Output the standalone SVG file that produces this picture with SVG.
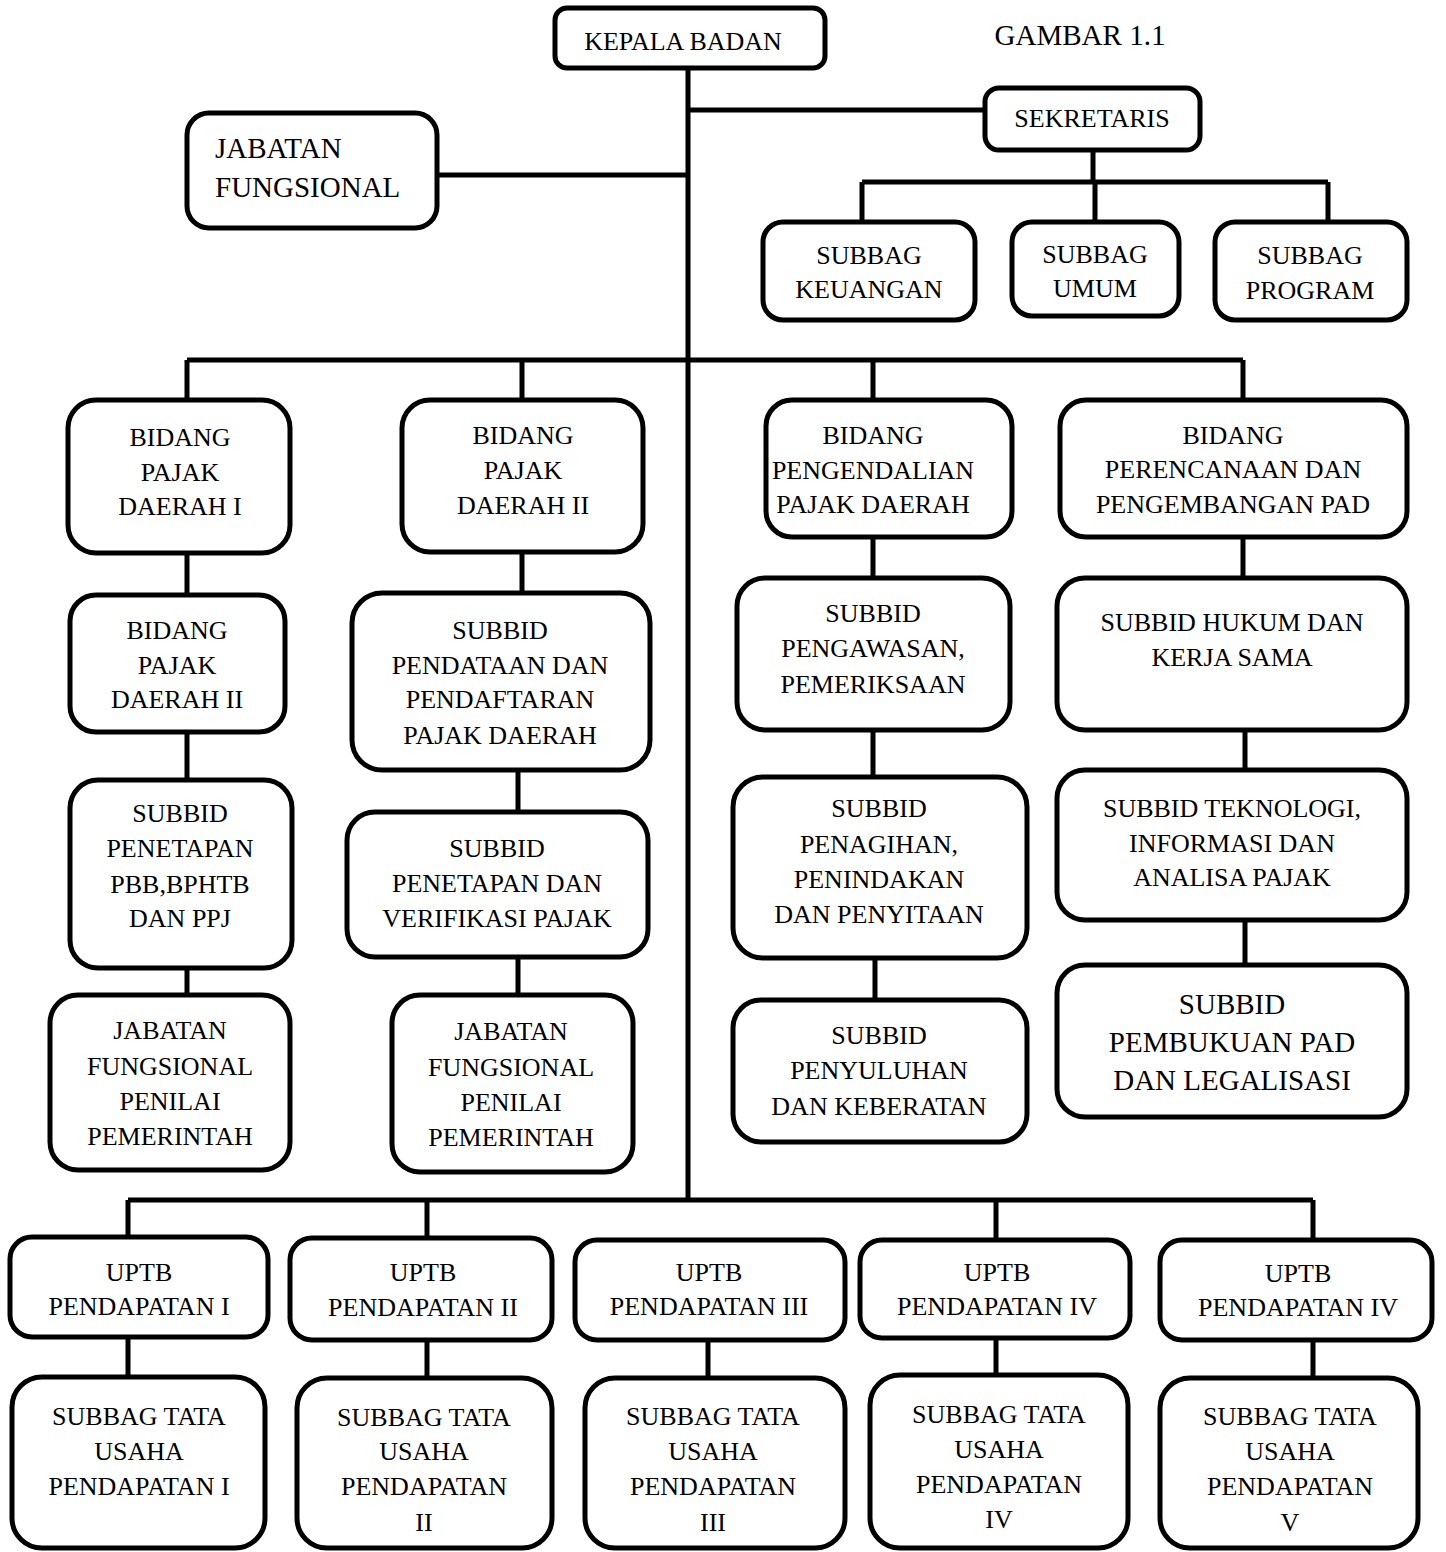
<svg xmlns="http://www.w3.org/2000/svg" width="1446" height="1552" viewBox="0 0 1446 1552">
<style>
.box{fill:#fff;stroke:#000;stroke-width:5}
.t{font-family:"Liberation Serif","Times New Roman",serif;font-size:26px;fill:#000;text-anchor:middle}
.l{font-size:29px;text-anchor:start}
.b{font-size:29px}
.c{fill:none;stroke:#000;stroke-width:5}
</style>
<rect width="1446" height="1552" fill="#fff"/>
<g id="connectors" class="c">
<path d="M688,68 V1200"/>
<path d="M688,110 H985"/>
<path d="M437,175 H688"/>
<path d="M1093,150 V182 M862,182 H1328 M862,182 V222 M1095,182 V222 M1328,182 V222"/>
<path d="M187,360 H1243 M187,360 V400 M522,360 V400 M873,360 V400 M1243,360 V400"/>
<path d="M187,553 V595 M187,732 V780 M187,968 V995"/>
<path d="M522,552 V593 M518,770 V812 M518,957 V995"/>
<path d="M873,537 V578 M873,730 V777 M875,958 V1000"/>
<path d="M1243,537 V578 M1245,730 V770 M1245,920 V965"/>
<path d="M128,1200 H1313 M128,1200 V1238 M427,1200 V1240 M996,1200 V1240 M1313,1200 V1240"/>
<path d="M128,1337 V1378 M427,1340 V1378 M708,1340 V1378 M996,1338 V1375 M1313,1340 V1378"/>
</g>
<text class="t b" x="1080" y="45">GAMBAR 1.1</text>
<g id="kepala"><rect class="box" x="555" y="8" width="270" height="60" rx="12"/><text class="t" x="683" y="50">KEPALA BADAN</text></g>
<g id="sekretaris"><rect class="box" x="985" y="88" width="215" height="62" rx="14"/><text class="t" x="1092" y="127">SEKRETARIS</text></g>
<g id="jabatan-fungsional"><rect class="box" x="187" y="113" width="250" height="115" rx="22"/><text class="t l" x="215" y="158">JABATAN</text><text class="t l" x="215" y="197">FUNGSIONAL</text></g>
<g id="subbag-keuangan"><rect class="box" x="763" y="222" width="212" height="98" rx="20"/><text class="t" x="869" y="264">SUBBAG</text><text class="t" x="869" y="298">KEUANGAN</text></g>
<g id="subbag-umum"><rect class="box" x="1012" y="222" width="167" height="94" rx="20"/><text class="t" x="1095" y="263">SUBBAG</text><text class="t" x="1095" y="297">UMUM</text></g>
<g id="subbag-program"><rect class="box" x="1215" y="222" width="192" height="98" rx="20"/><text class="t" x="1310" y="264">SUBBAG</text><text class="t" x="1310" y="299">PROGRAM</text></g>

<g id="bidang-pajak-1"><rect class="box" x="68" y="400" width="222" height="153" rx="28"/><text class="t" x="180" y="446">BIDANG</text><text class="t" x="180" y="481">PAJAK</text><text class="t" x="180" y="515">DAERAH I</text></g>
<g id="bidang-pajak-2"><rect class="box" x="402" y="400" width="241" height="152" rx="28"/><text class="t" x="523" y="444">BIDANG</text><text class="t" x="523" y="479">PAJAK</text><text class="t" x="523" y="514">DAERAH II</text></g>
<g id="bidang-pengendalian"><rect class="box" x="766" y="400" width="246" height="137" rx="26"/><text class="t" x="873" y="444">BIDANG</text><text class="t" x="873" y="479">PENGENDALIAN</text><text class="t" x="873" y="513">PAJAK DAERAH</text></g>
<g id="bidang-perencanaan"><rect class="box" x="1060" y="400" width="347" height="137" rx="26"/><text class="t" x="1233" y="444">BIDANG</text><text class="t" x="1233" y="478">PERENCANAAN DAN</text><text class="t" x="1233" y="513">PENGEMBANGAN PAD</text></g>

<g id="bidang-pajak-2b"><rect class="box" x="70" y="595" width="215" height="137" rx="26"/><text class="t" x="177" y="639">BIDANG</text><text class="t" x="177" y="674">PAJAK</text><text class="t" x="177" y="708">DAERAH II</text></g>
<g id="subbid-penetapan-pbb"><rect class="box" x="70" y="780" width="222" height="188" rx="28"/><text class="t" x="180" y="822">SUBBID</text><text class="t" x="180" y="857">PENETAPAN</text><text class="t" x="180" y="893">PBB,BPHTB</text><text class="t" x="180" y="927">DAN PPJ</text></g>
<g id="jabatan-penilai-1"><rect class="box" x="50" y="995" width="240" height="175" rx="28"/><text class="t" x="170" y="1039">JABATAN</text><text class="t" x="170" y="1075">FUNGSIONAL</text><text class="t" x="170" y="1110">PENILAI</text><text class="t" x="170" y="1145">PEMERINTAH</text></g>

<g id="subbid-pendataan"><rect class="box" x="352" y="593" width="298" height="177" rx="30"/><text class="t" x="500" y="639">SUBBID</text><text class="t" x="500" y="674">PENDATAAN DAN</text><text class="t" x="500" y="708">PENDAFTARAN</text><text class="t" x="500" y="744">PAJAK DAERAH</text></g>
<g id="subbid-penetapan-verifikasi"><rect class="box" x="347" y="812" width="301" height="145" rx="28"/><text class="t" x="497" y="857">SUBBID</text><text class="t" x="497" y="892">PENETAPAN DAN</text><text class="t" x="497" y="927">VERIFIKASI PAJAK</text></g>
<g id="jabatan-penilai-2"><rect class="box" x="392" y="995" width="241" height="177" rx="28"/><text class="t" x="511" y="1040">JABATAN</text><text class="t" x="511" y="1076">FUNGSIONAL</text><text class="t" x="511" y="1111">PENILAI</text><text class="t" x="511" y="1146">PEMERINTAH</text></g>

<g id="subbid-pengawasan"><rect class="box" x="737" y="578" width="273" height="152" rx="28"/><text class="t" x="873" y="622">SUBBID</text><text class="t" x="873" y="657">PENGAWASAN,</text><text class="t" x="873" y="693">PEMERIKSAAN</text></g>
<g id="subbid-penagihan"><rect class="box" x="733" y="777" width="294" height="181" rx="30"/><text class="t" x="879" y="817">SUBBID</text><text class="t" x="879" y="853">PENAGIHAN,</text><text class="t" x="879" y="888">PENINDAKAN</text><text class="t" x="879" y="923">DAN PENYITAAN</text></g>
<g id="subbid-penyuluhan"><rect class="box" x="733" y="1000" width="294" height="142" rx="28"/><text class="t" x="879" y="1044">SUBBID</text><text class="t" x="879" y="1079">PENYULUHAN</text><text class="t" x="879" y="1115">DAN KEBERATAN</text></g>

<g id="subbid-hukum"><rect class="box" x="1057" y="578" width="350" height="152" rx="28"/><text class="t" x="1232" y="631">SUBBID HUKUM DAN</text><text class="t" x="1232" y="666">KERJA SAMA</text></g>
<g id="subbid-teknologi"><rect class="box" x="1057" y="770" width="350" height="150" rx="28"/><text class="t" x="1232" y="817">SUBBID TEKNOLOGI,</text><text class="t" x="1232" y="852">INFORMASI DAN</text><text class="t" x="1232" y="886">ANALISA PAJAK</text></g>
<g id="subbid-pembukuan"><rect class="box" x="1057" y="965" width="350" height="152" rx="28"/><text class="t b" x="1232" y="1014">SUBBID</text><text class="t b" x="1232" y="1052">PEMBUKUAN PAD</text><text class="t b" x="1232" y="1090">DAN LEGALISASI</text></g>

<g id="uptb-1"><rect class="box" x="10" y="1237" width="258" height="100" rx="22"/><text class="t" x="139" y="1281">UPTB</text><text class="t" x="139" y="1315">PENDAPATAN I</text></g>
<g id="uptb-2"><rect class="box" x="290" y="1238" width="262" height="102" rx="22"/><text class="t" x="423" y="1281">UPTB</text><text class="t" x="423" y="1316">PENDAPATAN II</text></g>
<g id="uptb-3"><rect class="box" x="575" y="1240" width="270" height="100" rx="22"/><text class="t" x="709" y="1281">UPTB</text><text class="t" x="709" y="1315">PENDAPATAN III</text></g>
<g id="uptb-4"><rect class="box" x="860" y="1240" width="270" height="98" rx="22"/><text class="t" x="997" y="1281">UPTB</text><text class="t" x="997" y="1315">PENDAPATAN IV</text></g>
<g id="uptb-5"><rect class="box" x="1160" y="1240" width="272" height="100" rx="22"/><text class="t" x="1298" y="1282">UPTB</text><text class="t" x="1298" y="1316">PENDAPATAN IV</text></g>

<g id="tu-1"><rect class="box" x="12" y="1377" width="253" height="171" rx="30"/><text class="t" x="139" y="1425">SUBBAG TATA</text><text class="t" x="139" y="1460">USAHA</text><text class="t" x="139" y="1495">PENDAPATAN I</text></g>
<g id="tu-2"><rect class="box" x="297" y="1378" width="255" height="170" rx="30"/><text class="t" x="424" y="1426">SUBBAG TATA</text><text class="t" x="424" y="1460">USAHA</text><text class="t" x="424" y="1495">PENDAPATAN</text><text class="t" x="424" y="1531">II</text></g>
<g id="tu-3"><rect class="box" x="585" y="1378" width="260" height="170" rx="30"/><text class="t" x="713" y="1425">SUBBAG TATA</text><text class="t" x="713" y="1460">USAHA</text><text class="t" x="713" y="1495">PENDAPATAN</text><text class="t" x="713" y="1531">III</text></g>
<g id="tu-4"><rect class="box" x="870" y="1375" width="258" height="173" rx="30"/><text class="t" x="999" y="1423">SUBBAG TATA</text><text class="t" x="999" y="1458">USAHA</text><text class="t" x="999" y="1493">PENDAPATAN</text><text class="t" x="999" y="1528">IV</text></g>
<g id="tu-5"><rect class="box" x="1160" y="1378" width="258" height="170" rx="30"/><text class="t" x="1290" y="1425">SUBBAG TATA</text><text class="t" x="1290" y="1460">USAHA</text><text class="t" x="1290" y="1495">PENDAPATAN</text><text class="t" x="1290" y="1531">V</text></g>
</svg>
